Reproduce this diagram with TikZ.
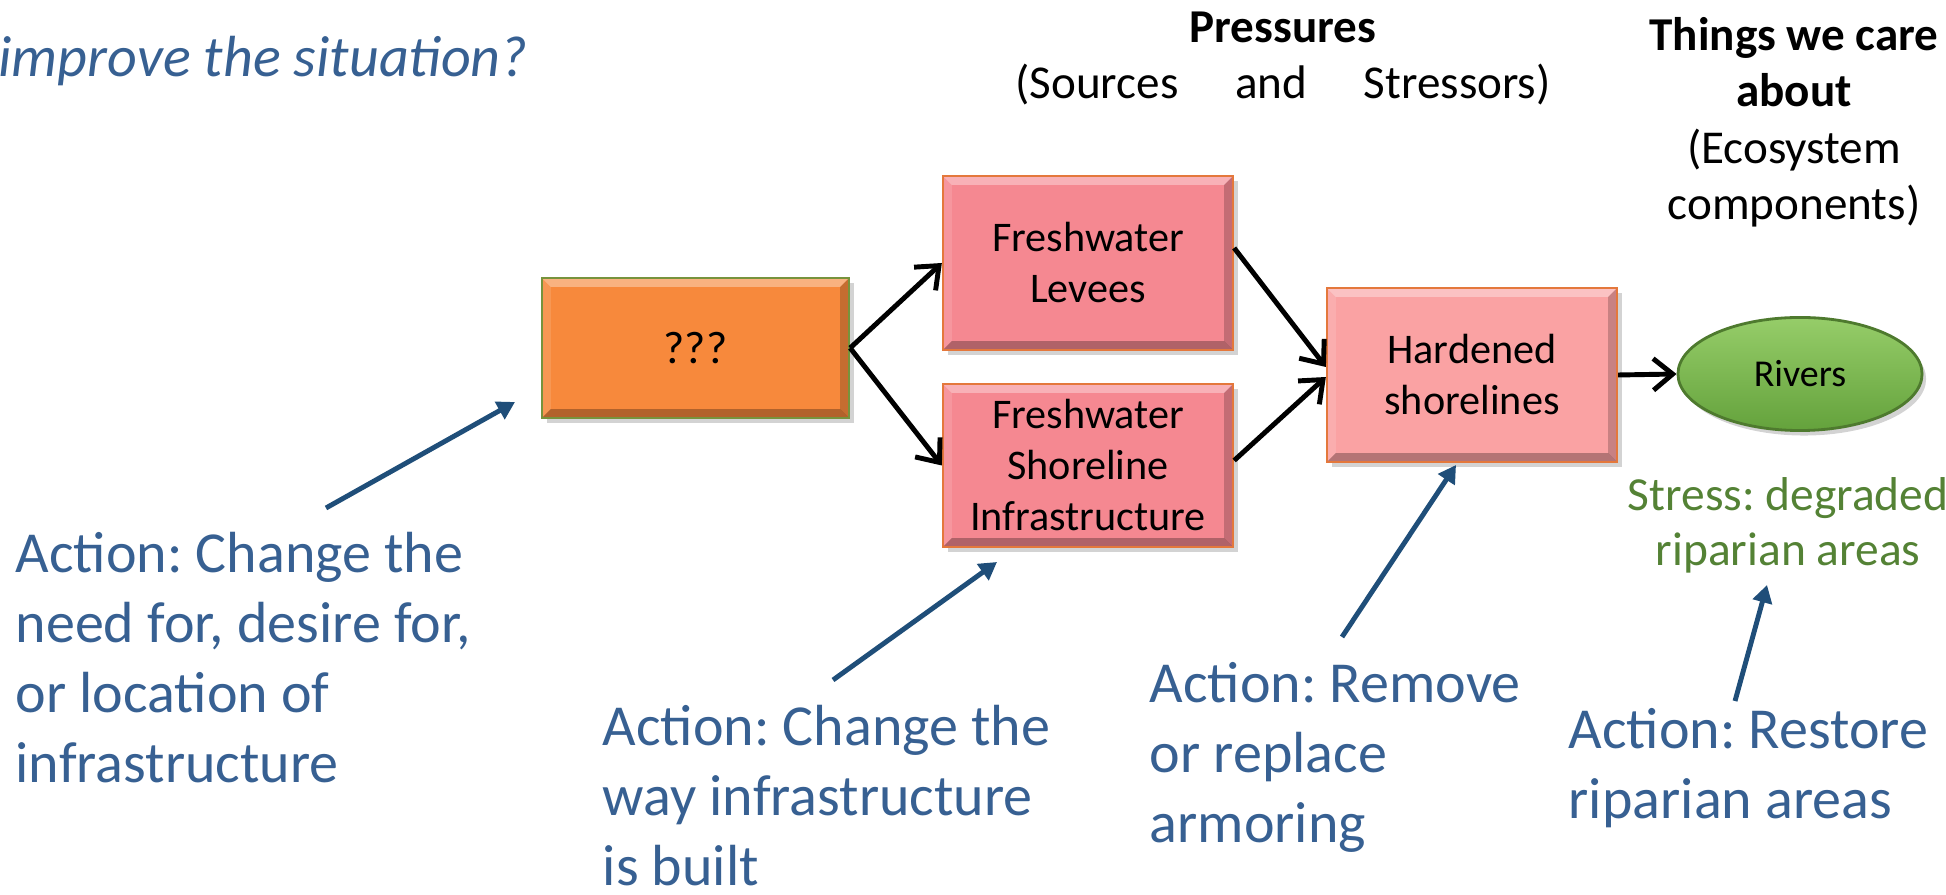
\documentclass[tikz,border=0pt]{standalone}
\usepackage{fontspec}
\setmainfont{Carlito}
\frenchspacing
\usetikzlibrary{arrows.meta,shapes.geometric,shadows}
\definecolor{actblue}{RGB}{55,96,146}
\definecolor{arrblue}{RGB}{31,78,121}
\definecolor{stressgreen}{RGB}{84,130,53}
\definecolor{qorange}{RGB}{247,137,60}
\definecolor{qborder}{RGB}{119,147,60}
\definecolor{pinkA}{RGB}{245,136,145}
\definecolor{pinkB}{RGB}{250,162,163}
\definecolor{pinkborder}{RGB}{228,120,60}
\definecolor{rivgreen}{RGB}{100,162,60}
\definecolor{rivlight}{RGB}{150,205,105}
\definecolor{rivborder}{RGB}{78,122,46}
\begin{document}
\begin{tikzpicture}[x=0.01cm,y=-0.01cm,
  bevel/.style={path picture={
    \fill[white,opacity=0.35] (path picture bounding box.north west) -- (path picture bounding box.north east) -- ([xshift=-0.09cm,yshift=-0.09cm]path picture bounding box.north east) -- ([xshift=0.09cm,yshift=-0.09cm]path picture bounding box.north west) -- cycle;
    \fill[white,opacity=0.12] (path picture bounding box.north west) -- (path picture bounding box.south west) -- ([xshift=0.09cm,yshift=0.09cm]path picture bounding box.south west) -- ([xshift=0.09cm,yshift=-0.09cm]path picture bounding box.north west) -- cycle;
    \fill[black,opacity=0.28] (path picture bounding box.south west) -- (path picture bounding box.south east) -- ([xshift=-0.09cm,yshift=0.09cm]path picture bounding box.south east) -- ([xshift=0.09cm,yshift=0.09cm]path picture bounding box.south west) -- cycle;
    \fill[black,opacity=0.2] (path picture bounding box.north east) -- (path picture bounding box.south east) -- ([xshift=-0.09cm,yshift=0.09cm]path picture bounding box.south east) -- ([xshift=-0.09cm,yshift=-0.09cm]path picture bounding box.north east) -- cycle;
  }},
  boxbase/.style={rectangle, line width=0.6pt, inner sep=2pt, align=center, text=black,
    font=\fontsize{12}{14.5}\selectfont,
    drop shadow={shadow xshift=0.05cm,shadow yshift=-0.05cm,opacity=0.35}, bevel},
  qbox/.style={boxbase, fill=qorange, draw=qborder, minimum width=3.07cm, minimum height=1.4cm, font=\fontsize{13}{15}\selectfont},
  pinkbox/.style={boxbase, fill=pinkA, draw=pinkborder, minimum width=2.9cm},
  hardbox/.style={boxbase, fill=pinkB, draw=pinkborder, minimum width=2.9cm, minimum height=1.74cm},
  flow/.style={-{Straight Barb[length=5.5pt,width=9pt]}, line width=1.4pt, black},
  act/.style={-{Triangle[length=5pt,width=5.5pt]}, line width=1.4pt, arrblue},
  acttext/.style={anchor=base west, align=left, inner sep=0pt, text=actblue, font=\fontsize{16.5}{19.9}\selectfont},
  head/.style={anchor=base, align=center, inner sep=0pt, text=black}
]
\useasboundingbox (0,0) rectangle (1946,895);

% title
\node[anchor=base west, inner sep=0pt, text=actblue, font=\fontsize{16.5}{20}\selectfont\itshape] (title) at (-2,77) {improve the situation?};

% headers (anchored at the baseline of the last line)
\node[head, font=\fontsize{13.4}{16.2}\selectfont] (press) at (1283,99) {\textbf{Pressures}\\\makebox[5.35cm][s]{(Sources and Stressors)}};
\node[head, font=\fontsize{13.4}{16.1}\selectfont] (things) at (1794,220) {\textbf{Things we care}\\\textbf{about}\\(Ecosystem\\components)};

% boxes
\node[qbox] (q) at (695.5,348) {???};
\node[pinkbox, minimum height=1.74cm] (lev) at (1088,263) {Freshwater\\Levees};
\node[pinkbox, minimum height=1.63cm] (shore) at (1088,465.5) {Freshwater\\Shoreline\\Infrastructure};
\node[hardbox] (hard) at (1472,375) {Hardened\\shorelines};
\node[ellipse, minimum width=2.44cm, minimum height=1.13cm, draw=rivborder, line width=0.8pt,
  top color=rivlight, bottom color=rivgreen,
  drop shadow={shadow xshift=0.04cm,shadow yshift=-0.05cm,opacity=0.35},
  font=\fontsize{10.8}{13}\selectfont] (riv) at (1800,374) {Rivers};

% flow arrows
\draw[flow] (q.east) -- (lev.west);
\draw[flow] (q.east) -- (shore.west);
\draw[flow] ([yshift=0.15cm]lev.east) -- ([yshift=0.08cm]hard.west);
\draw[flow] ([yshift=0.05cm]shore.east) -- ([yshift=-0.02cm]hard.west);
\draw[flow] (hard.east) -- (riv.west);

% stress label
\node[anchor=base, align=center, inner sep=0pt, text=stressgreen, font=\fontsize{13.5}{15.9}\selectfont] (stress) at (1788,566) {Stress: degraded\\riparian areas};

% action texts (anchored at the baseline of the last line)
\node[acttext] (t1) at (15,782) {Action: Change the\\need for, desire for,\\or location of\\infrastructure};
\node[acttext] (t2) at (602,885) {Action: Change the\\way infrastructure\\is built};
\node[acttext] (t3) at (1149,842) {Action: Remove\\or replace\\armoring};
\node[acttext] (t4) at (1568,818) {Action: Restore\\riparian areas};

% action arrows
\coordinate (a1s) at (326,508); \coordinate (a1e) at (515,402);
\coordinate (a2s) at (833,680); \coordinate (a2e) at (997,562);
\coordinate (a3s) at (1342,637); \coordinate (a3e) at (1456,465);
\coordinate (a4s) at (1735,701); \coordinate (a4e) at (1767,585);
\draw[act] (a1s) -- (a1e);
\draw[act] (a2s) -- (a2e);
\draw[act] (a3s) -- (a3e);
\draw[act] (a4s) -- (a4e);
\end{tikzpicture}
\end{document}
